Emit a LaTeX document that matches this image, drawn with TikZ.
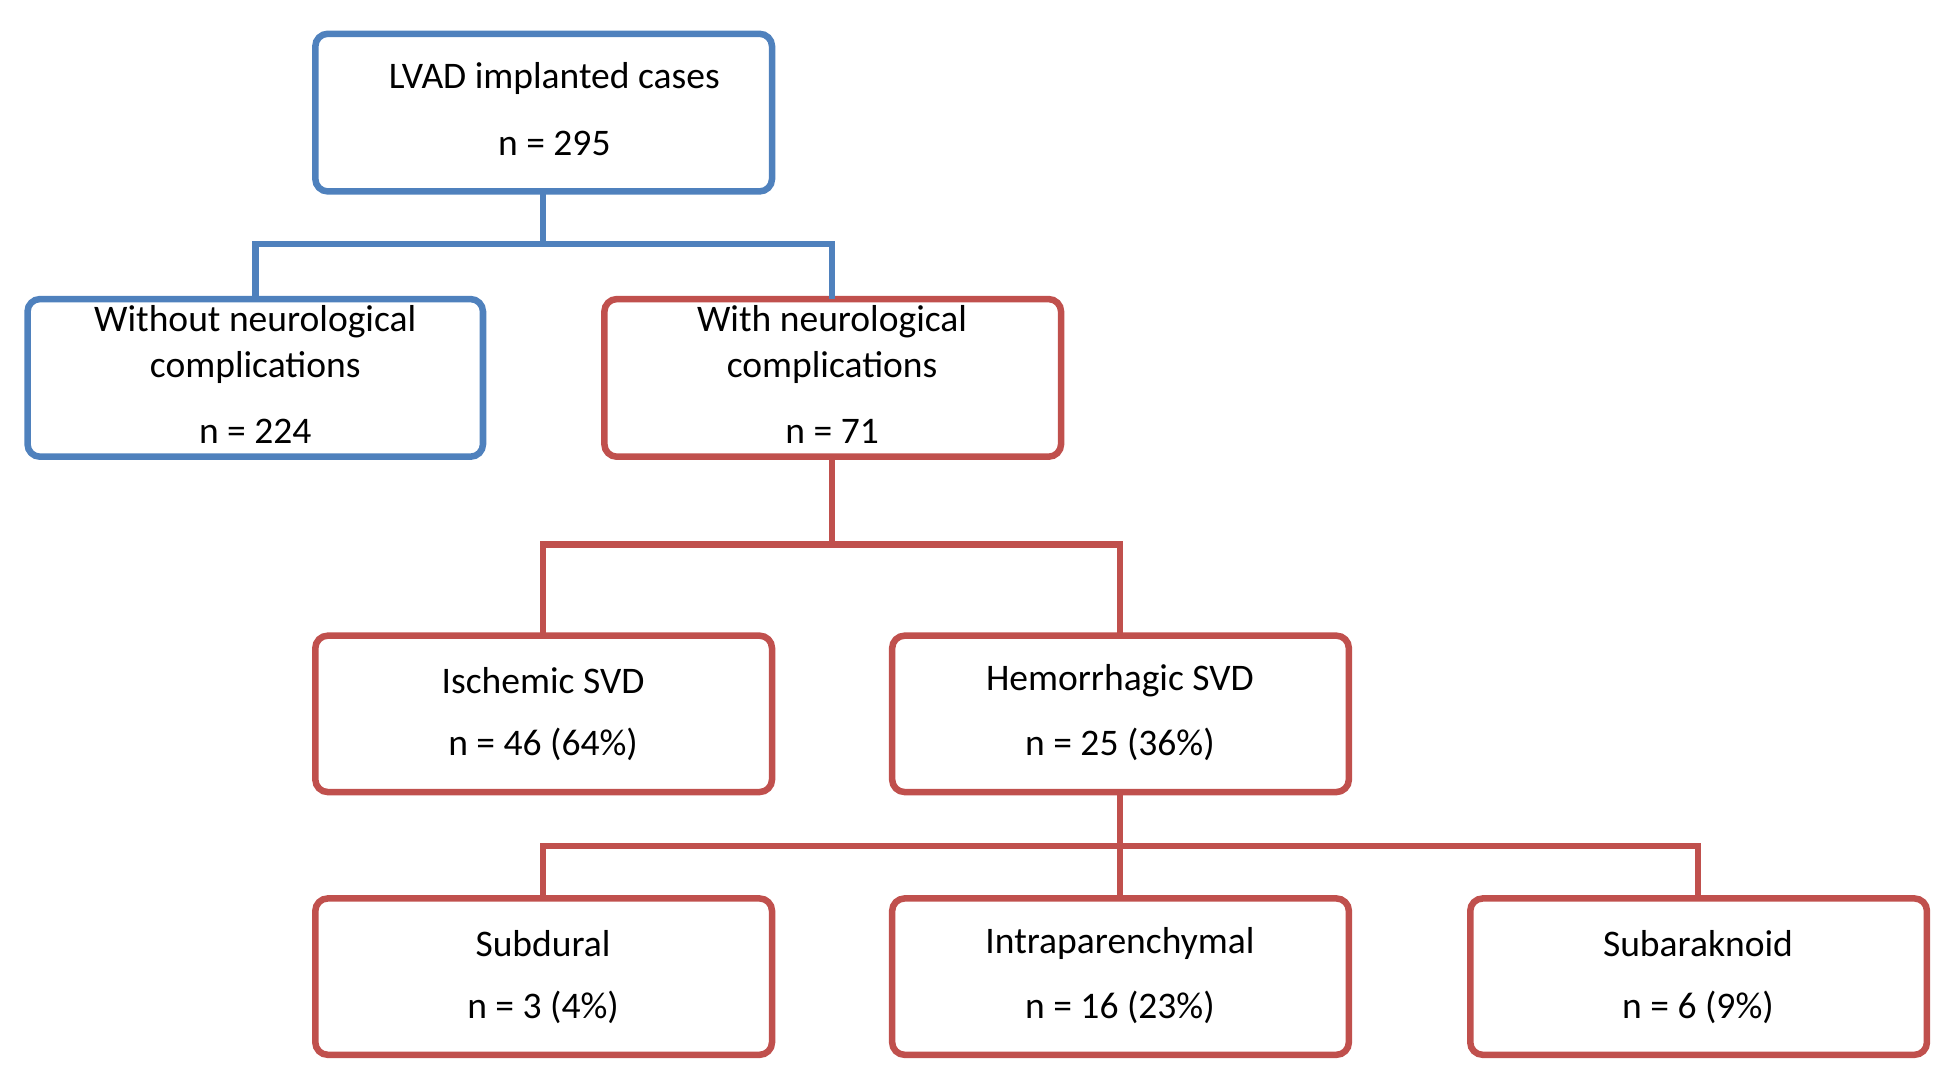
\documentclass[tikz,border=0pt]{standalone}
\usepackage{fontspec}
\setmainfont{Carlito}
\definecolor{bl}{RGB}{79,129,189}
\definecolor{rd}{RGB}{192,80,77}
\begin{document}
\begin{tikzpicture}[x=0.5pt,y=-0.5pt,
 box/.style={line width=2.6pt,rounded corners=5pt},
 ln/.style={line width=2.6pt},
 txt/.style={font=\fontsize{15}{18}\selectfont,inner sep=0pt}]
\useasboundingbox (0,0) rectangle (1560,872);
\def\bx#1#2#3#4#5{\draw[box,#5] (#1,#2) rectangle (#3,#4);}
\bx{252}{27}{617}{153}{bl}
\bx{22}{239}{386}{365}{bl}
\bx{483}{239}{848}{365}{rd}
\bx{252}{508}{617}{633}{rd}
\bx{713}{508}{1078}{633}{rd}
\bx{252}{718}{617}{843}{rd}
\bx{713}{718}{1078}{843}{rd}
\bx{1175}{718}{1540}{843}{rd}
\node[txt] (a1) at (443,63) {LVAD implanted cases};
\node[txt] (a2) at (443,115) {n = 295};
\node[txt] (b1) at (204,257) {Without neurological};
\node[txt] (b2) at (204,294) {complications};
\node[txt] (b3) at (204,345) {n = 224};
\node[txt] (c1) at (665,257) {With neurological};
\node[txt] (c2) at (665,294) {complications};
\node[txt] (c3) at (665,345) {n = 71};
\node[txt] (d1) at (434,544) {Ischemic SVD};
\node[txt] (d2) at (434,595) {n = 46 (64\%)};
\node[txt] (e1) at (895,544) {Hemorrhagic SVD};
\node[txt] (e2) at (895,595) {n = 25 (36\%)};
\node[txt] (f1) at (434,754) {Subdural};
\node[txt] (f2) at (434,805) {n = 3 (4\%)};
\node[txt] (g1) at (895,754) {Intraparenchymal};
\node[txt] (g2) at (895,805) {n = 16 (23\%)};
\node[txt] (h1) at (1357,754) {Subaraknoid};
\node[txt] (h2) at (1357,805) {n = 6 (9\%)};
\draw[ln,bl] (434,153) -- (434,195);
\draw[ln,bl] (204,239) -- (204,195) -- (665,195) -- (665,239);
\draw[ln,rd] (665,365) -- (665,435);
\draw[ln,rd] (434,508) -- (434,435) -- (895,435) -- (895,508);
\draw[ln,rd] (895,633) -- (895,718);
\draw[ln,rd] (434,718) -- (434,676) -- (1357,676) -- (1357,718);
\end{tikzpicture}
\end{document}
